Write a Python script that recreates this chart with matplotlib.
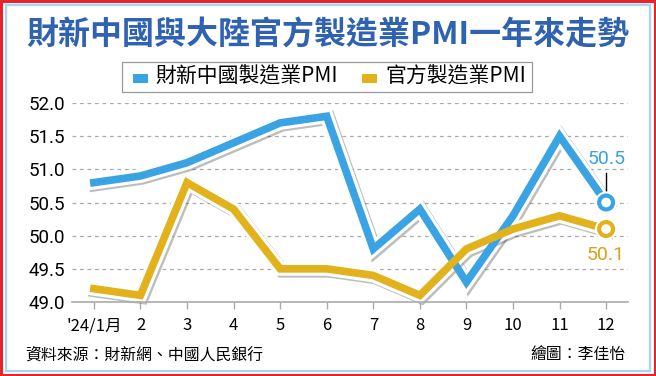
import matplotlib.pyplot as plt
import matplotlib.patheffects as pe
from matplotlib.patches import Rectangle

plt.rcParams['font.family'] = ['Noto Sans CJK TC', 'DejaVu Sans']

# monthly PMI, 2024
months = [1, 2, 3, 4, 5, 6, 7, 8, 9, 10, 11, 12]
month_labels = ["'24/1月", '2', '3', '4', '5', '6', '7', '8', '9', '10', '11', '12']
caixin = [50.8, 50.9, 51.1, 51.4, 51.7, 51.8, 49.8, 50.4, 49.3, 50.3, 51.5, 50.5]
official = [49.2, 49.1, 50.8, 50.4, 49.5, 49.5, 49.4, 49.1, 49.8, 50.1, 50.3, 50.1]
yticks = [49.0, 49.5, 50.0, 50.5, 51.0, 51.5, 52.0]

BLUE = '#3aa3e3'
GOLD = '#e2b21c'
TITLE = '#2f62b0'

fig = plt.figure(figsize=(6.56, 3.76), dpi=100)

# outer frames
fig.patches.append(Rectangle((0.002, 0.003), 0.996, 0.994, transform=fig.transFigure,
                             fill=False, edgecolor='#e8232a', linewidth=2.2))
fig.patches.append(Rectangle((0.009, 0.014), 0.982, 0.972, transform=fig.transFigure,
                             fill=False, edgecolor='#a9d4f2', linewidth=1.6))

fig.text(0.5, 0.905, '財新中國與大陸官方製造業PMI一年來走勢', ha='center', va='center',
         fontsize=23, color=TITLE, fontweight='bold')

# legend box
fig.patches.append(Rectangle((122 / 656, 1 - 92 / 376), 410 / 656, 30 / 376, transform=fig.transFigure,
                             fill=False, edgecolor='#999999', linewidth=0.9))
fig.patches.append(Rectangle((133 / 656, 1 - 83 / 376), 15 / 656, 9 / 376, transform=fig.transFigure,
                             facecolor=BLUE, edgecolor='none'))
fig.text(155 / 656, 1 - 77 / 376, '財新中國製造業PMI', ha='left', va='center', fontsize=15)
fig.patches.append(Rectangle((362 / 656, 1 - 83 / 376), 15 / 656, 9 / 376, transform=fig.transFigure,
                             facecolor=GOLD, edgecolor='none'))
fig.text(385 / 656, 1 - 77 / 376, '官方製造業PMI', ha='left', va='center', fontsize=15)

ax = fig.add_axes([72 / 656, 1 - 302 / 376, 556 / 656, 199 / 376])
ax.set_xlim(0.53, 12.47)
ax.set_ylim(49.0, 52.0)

for v in yticks[1:]:
    ax.axhline(v, color='#aaaaaa', linestyle=(0, (3, 3)), linewidth=0.9, zorder=0)

for s in ['top', 'right', 'left']:
    ax.spines[s].set_visible(False)
ax.spines['bottom'].set_color('#aaaaaa')
ax.spines['bottom'].set_linewidth(1.2)

ax.set_xticks(months)
ax.set_xticklabels(month_labels, fontsize=12)
ax.set_yticks(yticks)
ax.set_yticklabels([f'{v:.1f}' for v in yticks], fontsize=13.5, family=['Roboto', 'DejaVu Sans'])
ax.tick_params(axis='x', length=5, width=1, color='#aaaaaa', pad=6)
ax.tick_params(axis='y', length=0, pad=5)

# white outline + soft shadow under both lines, then the coloured lines on top
shadow = [pe.SimpleLineShadow(offset=(1.3, -1.3), shadow_color='#444444', alpha=0.35), pe.Normal()]
for series in (caixin, official):
    ax.plot(months, series, color='white', linewidth=10, solid_joinstyle='miter',
            path_effects=shadow, zorder=2, clip_on=False)

ax.plot(months, caixin, color=BLUE, linewidth=5.5, solid_joinstyle='miter', zorder=3, clip_on=False)
ax.plot(months, official, color=GOLD, linewidth=5.5, solid_joinstyle='miter', zorder=4, clip_on=False)

mk_fx = [pe.Stroke(linewidth=6, foreground='white'), pe.Normal()]
ax.plot(months[-1], caixin[-1], 'o', markersize=10, markerfacecolor='white', markeredgecolor=BLUE,
        markeredgewidth=3, zorder=6, clip_on=False, path_effects=mk_fx)
ax.plot(months[-1], official[-1], 'o', markersize=10, markerfacecolor='white', markeredgecolor=GOLD,
        markeredgewidth=3, zorder=6, clip_on=False, path_effects=mk_fx)

ax.plot([months[-1], months[-1]], [caixin[-1] + 0.12, caixin[-1] + 0.45], color='black',
        linewidth=1, zorder=5)
ax.text(months[-1], caixin[-1] + 0.52, f'{caixin[-1]:.1f}', ha='center', va='bottom',
        fontsize=14, color=BLUE, family=['Roboto', 'DejaVu Sans'])
ax.text(months[-1], official[-1] - 0.25, f'{official[-1]:.1f}', ha='center', va='top',
        fontsize=14, color='#d9a21a', family=['Roboto', 'DejaVu Sans'])

fig.text(25 / 656, 1 - 355 / 376, '資料來源：財新網、中國人民銀行', ha='left', va='center', fontsize=11.4)
fig.text(626 / 656, 1 - 355 / 376, '繪圖：李佳怡', ha='right', va='center', fontsize=11.4)

fig.savefig('out.png', dpi=100)
